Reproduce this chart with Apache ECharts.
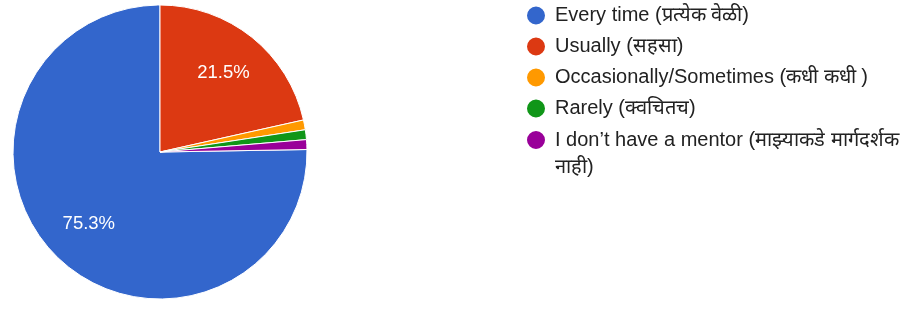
<!DOCTYPE html>
<html>
<head>
<meta charset="utf-8">
<script src="https://cdn.jsdelivr.net/npm/echarts@6/dist/echarts.min.js"></script>
<style>
  html, body { margin: 0; padding: 0; background: #fff; }
  #chart { width: 920px; height: 309px; }
</style>
</head>
<body>
<div id="chart"></div>
<script>
// answers and how many people picked each
var categories = [
  'Every time (प्रत्येक वेळी)',
  'Usually (सहसा)',
  'Occasionally/Sometimes (कधी कधी )',
  'Rarely (क्वचितच)',
  'I don\u2019t have a mentor (माझ्याकडे मार्गदर्शक नाही)'
];
var counts = [70, 20, 1, 1, 1];
var colors = ['#3366cc', '#dc3912', '#ff9900', '#109618', '#990099'];

var total = counts.reduce(function (a, b) { return a + b; }, 0);
// first slice (blue) ends at 12 o'clock, the rest follow clockwise from the top
var start = 90 - 360 * (total - counts[0]) / total;

var pieData = categories.map(function (name, i) {
  return { name: name, value: counts[i], itemStyle: { color: colors[i] } };
});

var font = '"Liberation Sans", Arial, sans-serif';
var lineH = 27;
var legendText = {
  fontFamily: font,
  fontSize: 20,
  color: '#222',
  lineHeight: lineH,
  padding: [0, 0, 0, 4]
};
var legendBase = {
  orient: 'vertical',
  left: 525,
  padding: 0,
  icon: 'circle',
  itemWidth: 20,
  itemHeight: 20,
  itemGap: 4
};

var chart = echarts.init(document.getElementById('chart'));
chart.setOption({
  animation: false,
  legend: [
    Object.assign({}, legendBase, {
      top: 2,
      data: categories.slice(0, 4),
      textStyle: legendText
    }),
    // last entry wraps before its last word; ECharts centres the dot on the text
    // block, so an empty first line keeps the dot level with the first real line
    Object.assign({}, legendBase, {
      top: 99.5,
      data: categories.slice(4),
      formatter: function (name) {
        var cut = name.lastIndexOf(' ');
        return '\n' + name.slice(0, cut) + '\n' + name.slice(cut + 1);
      },
      textStyle: legendText
    })
  ],
  series: [
    {
      type: 'pie',
      center: [160, 152],
      radius: [0, 147],
      startAngle: start,
      label: { show: false },
      labelLine: { show: false },
      itemStyle: { borderColor: '#fff', borderWidth: 1 },
      emphasis: { disabled: true },
      data: pieData
    },
    {
      // invisible ring, only used to put the percent labels at ~2/3 radius
      type: 'pie',
      center: [160, 152],
      radius: [50, 147],
      startAngle: start,
      silent: true,
      z: 3,
      itemStyle: { color: 'transparent' },
      label: {
        position: 'inside',
        color: '#fff',
        fontFamily: font,
        fontSize: 18.5,
        formatter: function (p) {
          return p.percent >= 5 ? (p.value / total * 100).toFixed(1) + '%' : '';
        }
      },
      labelLine: { show: false },
      data: categories.map(function (name, i) { return { name: name + ' ', value: counts[i] }; })
    }
  ]
});
</script>
</body>
</html>
